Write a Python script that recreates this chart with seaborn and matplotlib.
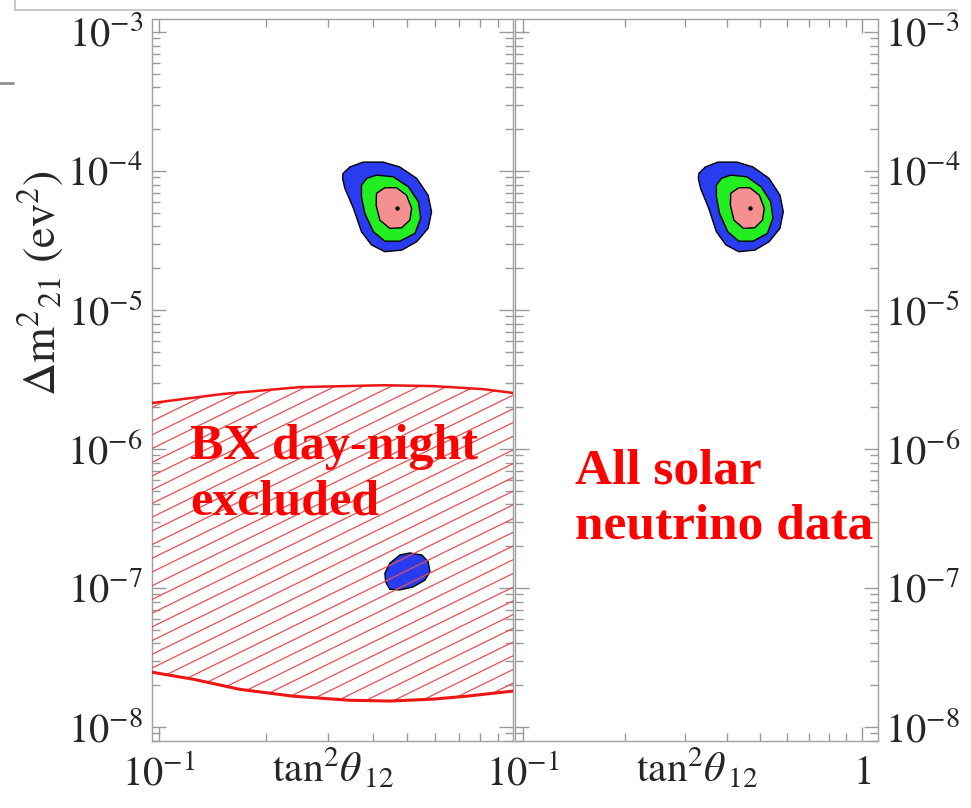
import numpy as np
import matplotlib
matplotlib.use("Agg")
import matplotlib.pyplot as plt
import matplotlib.ticker as mticker
from matplotlib.patches import Polygon
from matplotlib.lines import Line2D
import seaborn as sns

# allowed regions (tan^2 theta12 , dm^2_21 in eV^2)
blue_x = [0.330, 0.345, 0.376, 0.428, 0.477, 0.532, 0.573, 0.586, 0.573,
          0.532, 0.483, 0.433, 0.397, 0.372, 0.353, 0.334, 0.329]
blue_y = [9.6e-5, 1.07e-4, 1.16e-4, 1.16e-4, 1.07e-4, 8.86e-5, 6.71e-5, 5.09e-5, 3.87e-5,
          3.10e-5, 2.70e-5, 2.63e-5, 2.94e-5, 3.66e-5, 5.40e-5, 7.52e-5, 8.86e-5]

green_x = [0.372, 0.385, 0.410, 0.457, 0.504, 0.538, 0.546, 0.526, 0.477,
           0.433, 0.402, 0.380, 0.372]
green_y = [7.93e-5, 8.86e-5, 9.35e-5, 9.10e-5, 7.71e-5, 6.01e-5, 4.57e-5, 3.56e-5, 3.13e-5,
           3.13e-5, 3.66e-5, 4.97e-5, 6.53e-5]

pink_x = [0.410, 0.433, 0.467, 0.498, 0.515, 0.509, 0.483, 0.447, 0.419, 0.409]
pink_y = [6.92e-5, 7.59e-5, 7.59e-5, 6.71e-5, 5.40e-5, 4.44e-5, 3.91e-5, 3.87e-5, 4.44e-5, 5.69e-5]

# LOW solution island (left panel only)
low_x = [0.433, 0.447, 0.477, 0.509, 0.550, 0.573, 0.580, 0.561, 0.520, 0.477, 0.447, 0.435]
low_y = [1.28e-7, 1.51e-7, 1.73e-7, 1.79e-7, 1.73e-7, 1.55e-7, 1.31e-7, 1.14e-7, 1.02e-7,
         9.7e-8, 9.8e-8, 1.11e-7]

best_x = [0.467]
best_y = [5.40e-5]

# BX day-night excluded band
bx_top_x = [0.095, 0.151, 0.249, 0.428, 0.592, 0.818, 1.0]
bx_top_y = [2.14e-6, 2.49e-6, 2.79e-6, 2.88e-6, 2.84e-6, 2.70e-6, 2.53e-6]
bx_bot_x = [0.095, 0.125, 0.169, 0.238, 0.345, 0.448, 0.592, 0.738, 1.0]
bx_bot_y = [2.49e-8, 2.21e-8, 1.87e-8, 1.67e-8, 1.56e-8, 1.54e-8, 1.59e-8, 1.67e-8, 1.82e-8]

y_ticks = [1e-8, 1e-7, 1e-6, 1e-5, 1e-4, 1e-3]
x_ticks_left = [0.1]
x_labels_left = [r'$10^{-1}$']
x_ticks_right = [0.1, 1.0]
x_labels_right = [r'$10^{-1}$', r'$1$']

sns.set_style("white")
plt.rcParams['font.family'] = ['STIXGeneral', 'DejaVu Serif']
plt.rcParams['mathtext.fontset'] = 'stix'

fig = plt.figure(figsize=(9.71, 8.08), dpi=100)
ax1 = fig.add_axes([0.1565, 0.0829, 0.3718, 0.8936])
ax2 = fig.add_axes([0.5304, 0.0829, 0.3738, 0.8936])

c_blue = '#2a3cf0'
c_green = '#22ee22'
c_pink = '#f59090'
gray = '#a0a0a0'


def draw_lma(ax):
    for xs, ys, col in [(blue_x, blue_y, c_blue), (green_x, green_y, c_green),
                        (pink_x, pink_y, c_pink)]:
        ax.fill(xs, ys, facecolor=col, edgecolor='black', lw=1.0, joinstyle='round', zorder=2)
    sns.scatterplot(x=best_x, y=best_y, ax=ax, color='black', s=10, linewidth=0, zorder=4)


def style_axes(ax, xlim):
    ax.set_xscale('log')
    ax.set_yscale('log')
    ax.set_xlim(*xlim)
    ax.set_ylim(10 ** -8.10, 10 ** -2.906)
    ax.set_yticks(y_ticks)
    ax.xaxis.set_minor_locator(mticker.LogLocator(base=10, subs=np.arange(2, 10)))
    ax.yaxis.set_minor_locator(mticker.LogLocator(base=10, subs=np.arange(2, 10), numticks=20))
    ax.xaxis.set_minor_formatter(mticker.NullFormatter())
    ax.yaxis.set_minor_formatter(mticker.NullFormatter())
    ax.tick_params(which='both', direction='in', top=True, right=True, left=True,
                   bottom=True, color='#999999', width=1, labelsize=29)
    ax.tick_params(which='major', length=10)
    ax.tick_params(which='minor', length=6)
    ax.tick_params(axis='x', pad=31)
    for s in ax.spines.values():
        s.set_color(gray)
        s.set_linewidth(1.0)
    ax.set_xlabel(r'$\mathrm{tan}^2\theta_{\,12}$', fontsize=30)
    ax.xaxis.set_label_coords(0.5, -0.0575)
    ax.xaxis.label.set_va('baseline')


# ---- left panel
style_axes(ax1, (0.0956, 0.9935))
draw_lma(ax1)
ax1.fill(low_x, low_y, facecolor=c_blue, edgecolor='black', lw=1.0, zorder=2)

band = Polygon(np.column_stack([bx_top_x + bx_bot_x[::-1], bx_top_y + bx_bot_y[::-1]]),
               closed=True, facecolor='none', edgecolor='none', transform=ax1.transData)
ax1.add_patch(band)
for c in np.arange(-0.26, 0.56, 0.019):
    ln, = ax1.plot([0, 1], [c, c + 0.245], transform=ax1.transAxes,
                   color='#e85050', lw=0.9, zorder=3)
    ln.set_clip_path(band)
sns.lineplot(x=bx_top_x, y=bx_top_y, ax=ax1, color='#ee1515', lw=1.8, sort=False, zorder=3)
sns.lineplot(x=bx_bot_x, y=bx_bot_y, ax=ax1, color='#ee1515', lw=2.2, sort=False, zorder=3)

ax1.set_xticks(x_ticks_left, x_labels_left)
ax1.tick_params(axis='y', pad=6.5)
ax1.set_ylabel(r'$\Delta\mathrm{m}^2{}_{21}\ (\mathrm{ev}^2)$', fontsize=33)
ax1.yaxis.set_label_coords(-0.31, 0.634)
ax1.yaxis.label.set_va('center')

ax1.text(0.105, 0.391, 'BX day-night', transform=ax1.transAxes, color='#ff0000',
         fontsize=36, fontweight='bold', family='Liberation Serif', va='baseline', zorder=5)
ax1.text(0.105, 0.314, 'excluded', transform=ax1.transAxes, color='#ff0000',
         fontsize=36, fontweight='bold', family='Liberation Serif', va='baseline', zorder=5)

# ---- right panel
style_axes(ax2, (0.0947, 1.115))
draw_lma(ax2)
ax2.set_xticks(x_ticks_right, x_labels_right)
ax2.tick_params(axis='y', labelleft=False, labelright=True, pad=5)
ax2.set_ylabel('')
ax2.text(0.165, 0.356, 'All solar', transform=ax2.transAxes, color='#ff0000',
         fontsize=37, fontweight='bold', family='Liberation Serif', va='baseline',
         clip_on=False, zorder=5)
ax2.text(0.165, 0.281, 'neutrino data', transform=ax2.transAxes, color='#ff0000',
         fontsize=37, fontweight='bold', family='Liberation Serif', va='baseline',
         clip_on=False, zorder=5)

for ax in (ax1, ax2):
    for t in ax.xaxis.get_major_ticks():
        t.label1.set_verticalalignment('baseline')

# bits of the surrounding slide frame
fig.add_artist(Line2D([15 / 971, 957 / 971], [1 - 10 / 808] * 2, color='#c0c0c0', lw=1.2))
fig.add_artist(Line2D([15 / 971] * 2, [1.0, 1 - 10 / 808], color='#c0c0c0', lw=1.2))
fig.add_artist(Line2D([0, 13 / 971], [1 - 83 / 808] * 2, color='#909090', lw=2))

fig.savefig('out.png', dpi=100)
